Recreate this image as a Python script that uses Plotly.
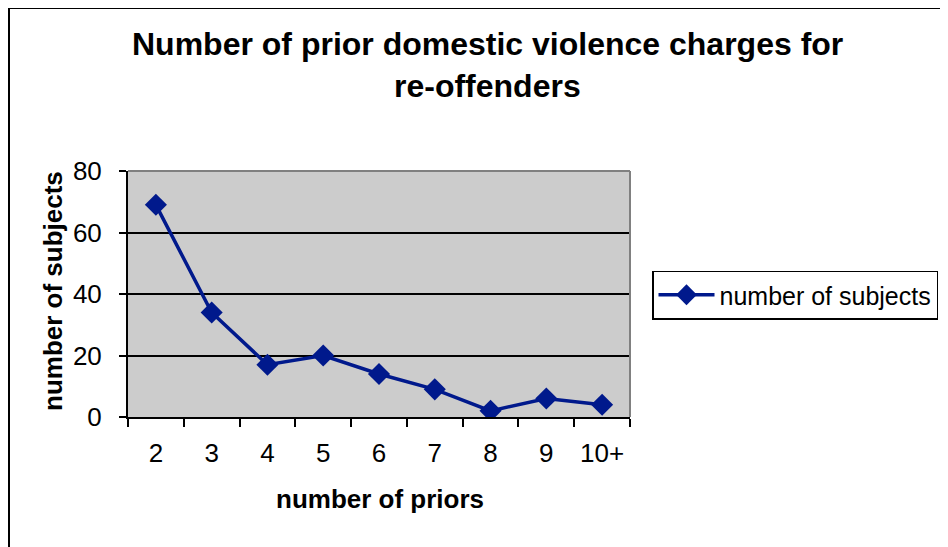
import plotly.graph_objects as go

categories = ["2", "3", "4", "5", "6", "7", "8", "9", "10+"]
subjects = [69, 34, 17, 20, 14, 9, 2, 6, 4]
y_ticks = [0, 20, 40, 60, 80]

title_lines = ["Number of prior domestic violence charges for", "re-offenders"]
x_title = "number of priors"
y_title = "number of subjects"
series_name = "number of subjects"

OFF = 8  # page body margin
W, H = 948 - OFF, 547 - OFF
# plot area in screen pixels
L, R, T, B = 128, 630, 171, 417
pw, ph = R - L, B - T


def px(x):
    return (x - L) / pw


def py(y):
    return (B - y) / ph


FONT = "Liberation Sans, Arial, sans-serif"
LINE_COLOR = "#00198C"

fig = go.Figure()
fig.add_trace(go.Scatter(
    x=categories, y=subjects, mode="lines+markers", name=series_name,
    line=dict(color=LINE_COLOR, width=3.5),
    marker=dict(symbol="diamond", size=17, color=LINE_COLOR),
))

fig.update_layout(
    width=W, height=H,
    margin=dict(l=L - OFF, r=(W + OFF) - R, t=T - OFF, b=(H + OFF) - B, pad=0,
                autoexpand=False),
    paper_bgcolor="white", plot_bgcolor="#CCCCCC",
    font=dict(family=FONT, color="black", size=26),
    showlegend=True,
    legend=dict(x=px(652), y=py(295), xanchor="left", yanchor="middle",
                bordercolor="black", borderwidth=1.5, bgcolor="white",
                itemwidth=56, font=dict(size=25, family=FONT)),
)

fig.update_xaxes(
    type="category", range=[-0.5, len(categories) - 0.5],
    tickson="boundaries", ticks="outside", ticklen=8,
    tickwidth=1.5, tickcolor="black", showline=True, linecolor="black",
    linewidth=2, showgrid=False, ticklabelstandoff=12,
    tickfont=dict(size=26),
)
fig.update_yaxes(
    range=[0, 80], tickvals=y_ticks, ticks="outside", ticklen=7,
    tickwidth=1.5, tickcolor="black", showline=True, linecolor="black",
    linewidth=2, showgrid=True, gridcolor="black", gridwidth=1.5,
    zeroline=False, ticklabelstandoff=12, tickfont=dict(size=26),
)

# plot area top/right border in gray
fig.add_shape(type="line", xref="x domain", yref="y domain", x0=0, x1=1, y0=1, y1=1,
              line=dict(color="#808080", width=2), layer="above")
fig.add_shape(type="line", xref="x domain", yref="y domain", x0=1, x1=1, y0=0, y1=1,
              line=dict(color="#808080", width=2), layer="above")

# figure outer border
fig.add_shape(type="rect", xref="paper", yref="paper",
              x0=px(9), x1=px(980), y0=py(580), y1=py(8),
              line=dict(color="black", width=2), fillcolor="rgba(0,0,0,0)")

# title lines
for txt, cy in zip(title_lines, [44, 86]):
    fig.add_annotation(text=f"<b>{txt}</b>", xref="paper", yref="paper",
                       x=px(487), y=py(cy), xanchor="center", yanchor="middle",
                       showarrow=False, font=dict(size=32, family=FONT))

fig.add_annotation(text=f"<b>{x_title}</b>", xref="paper", yref="paper",
                   x=px(380), y=py(499), xanchor="center", yanchor="middle",
                   showarrow=False, font=dict(size=26, family=FONT))
fig.add_annotation(text=f"<b>{y_title}</b>", xref="paper", yref="paper",
                   x=px(53), y=py(291), xanchor="center", yanchor="middle",
                   textangle=-90, showarrow=False, font=dict(size=26, family=FONT))

fig.write_html("out.html")
